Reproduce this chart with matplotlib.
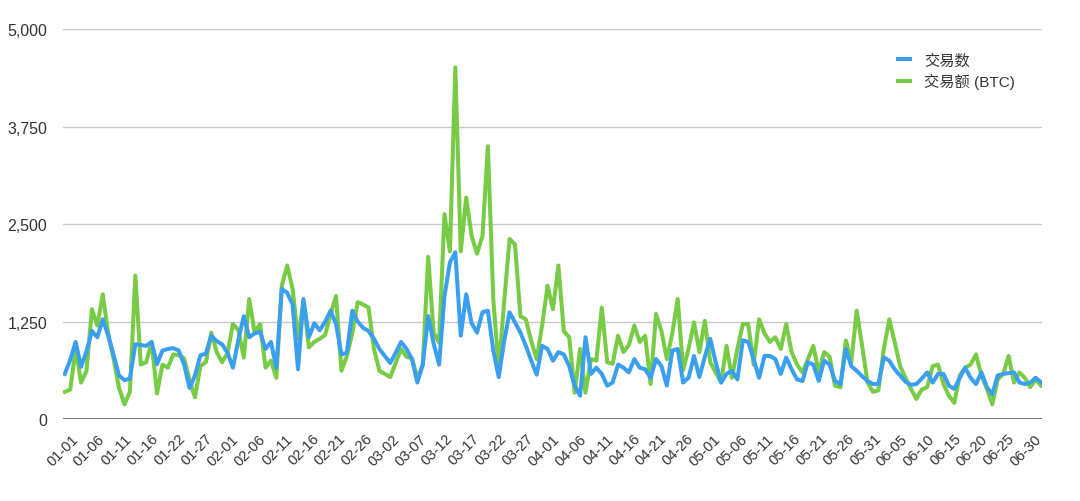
import matplotlib
matplotlib.use("Agg")
import matplotlib.pyplot as plt
import matplotlib.transforms as mtransforms
import pandas as pd

plt.rcParams['font.family'] = ['Liberation Sans', 'Noto Sans CJK SC', 'DejaVu Sans']

# dates: 2020-01-01 .. 2020-06-30 with 01-21 absent
all_days = pd.date_range("2020-01-01", "2020-06-30", freq="D")
dates = [d.strftime("%m-%d") for d in all_days if d.strftime("%m-%d") != "01-21"]

series_names = ["交易数", "交易额 (BTC)"]

tx_count = [
    580, 760, 990, 670, 870, 1130, 1050, 1280, 1070, 820,
    560, 500, 520, 960, 950, 940, 990, 705, 880, 900,
    910, 880, 700, 400, 560, 820, 840, 1070, 1000, 960,
    850, 660, 1020, 1320, 1050, 1100, 1120, 900, 990, 660,
    1670, 1620, 1470, 640, 1540, 1050, 1230, 1140, 1250, 1390,
    1220, 830, 850, 1390, 1250, 1170, 1130, 1030, 900, 810,
    720, 850, 990, 900, 770, 470, 700, 1320, 970, 700,
    1580, 2010, 2140, 1070, 1600, 1230, 1110, 1370, 1390, 880,
    540, 1000, 1370, 1240, 1110, 940, 750, 570, 940, 900,
    750, 860, 830, 680, 430, 300, 1050, 580, 660, 580,
    430, 470, 700, 660, 600, 770, 660, 640, 530, 770,
    680, 430, 880, 900, 470, 530, 810, 540, 800, 1030,
    730, 470, 580, 620, 510, 1010, 990, 770, 530, 810,
    810, 770, 580, 790, 640, 510, 490, 730, 700, 490,
    750, 700, 490, 450, 900, 680, 620, 550, 490, 450,
    450, 790, 750, 640, 560, 480, 440, 450, 520, 600,
    470, 580, 580, 430, 390, 530, 660, 530, 450, 600,
    410, 320, 560, 580, 590, 600, 470, 450, 470, 530,
    470,
]

tx_volume = [
    350, 380, 900, 470, 620, 1410, 1200, 1600, 1100, 770,
    400, 190, 350, 1840, 700, 730, 990, 330, 700, 660,
    830, 820, 780, 500, 280, 680, 730, 1110, 860, 730,
    850, 1220, 1140, 790, 1540, 1110, 1220, 660, 750, 530,
    1710, 1970, 1670, 1030, 1520, 920, 990, 1030, 1080, 1350,
    1580, 620, 810, 1100, 1500, 1470, 1430, 900, 620, 580,
    540, 720, 900, 800, 780, 520, 700, 2080, 1110, 980,
    2630, 2150, 4510, 2150, 2840, 2350, 2120, 2350, 3500, 1540,
    640, 1500, 2310, 2240, 1320, 1280, 1000, 770, 1200, 1710,
    1410, 1970, 1130, 1050, 340, 900, 340, 770, 750, 1430,
    730, 710, 1070, 860, 950, 1200, 990, 1070, 450, 1350,
    1130, 770, 1100, 1540, 630, 900, 1240, 860, 1260, 730,
    600, 470, 940, 530, 900, 1220, 1220, 700, 1280, 1100,
    990, 1050, 900, 1220, 860, 700, 600, 770, 940, 600,
    860, 800, 430, 410, 1010, 730, 1390, 940, 470, 350,
    370, 900, 1280, 990, 680, 530, 390, 260, 380, 410,
    680, 700, 450, 300, 210, 560, 660, 700, 830, 560,
    390, 190, 510, 580, 810, 470, 600, 530, 410, 510,
    430,
]

y_ticks = [0, 1250, 2500, 3750, 5000]
y_tick_labels = ["0", "1,250", "2,500", "3,750", "5,000"]

BLUE = "#3b9ff0"
GREEN = "#78cc45"

fig = plt.figure(figsize=(10.8, 5.02), dpi=100)
ax = fig.add_axes([0.058, 0.163, 0.907, 0.777])

x = list(range(len(dates)))
ax.plot(x, tx_volume, color=GREEN, lw=2.9, solid_joinstyle="round", zorder=3, label=series_names[1])
ax.plot(x, tx_count, color=BLUE, lw=2.9, solid_joinstyle="round", zorder=4, label=series_names[0])

n = len(dates)
ax.set_xlim(-0.4, n - 0.8)
ax.set_ylim(0, 5000)
ax.set_yticks(y_ticks)
ax.set_yticklabels(y_tick_labels, fontsize=11.5, color="#333333")
for yv in y_ticks[1:]:
    ax.axhline(yv, color="#c9c9c9", lw=1.0, zorder=1)
ax.axhline(0, color="#4a4a4a", lw=1.8, zorder=5)

xt = x[::5]
ax.set_xticks(xt)
ax.set_xticklabels([])
blend = mtransforms.blended_transform_factory(ax.transData, ax.transAxes)
for i in xt:
    dx = (3 + 13 * (1 - i / (n - 1))) / 100
    off = mtransforms.ScaledTranslation(dx, -12 / 100, fig.dpi_scale_trans)
    ax.text(i, 0, dates[i], transform=blend + off, rotation=45, ha="right", va="top",
            fontsize=10.5, color="#333333")

ax.tick_params(axis="both", length=0)
ax.tick_params(axis="y", pad=11)
for s in ax.spines.values():
    s.set_visible(False)

handles, labels = ax.get_legend_handles_labels()
leg = fig.legend(handles[::-1], labels[::-1], loc="upper left",
                 bbox_to_anchor=(0.819, 0.92), frameon=False, fontsize=11,
                 handlelength=0.8, handletextpad=0.9, labelspacing=0.35)
for t in leg.get_texts():
    t.set_color("#333333")

fig.savefig("out.png", dpi=100, facecolor="white")
